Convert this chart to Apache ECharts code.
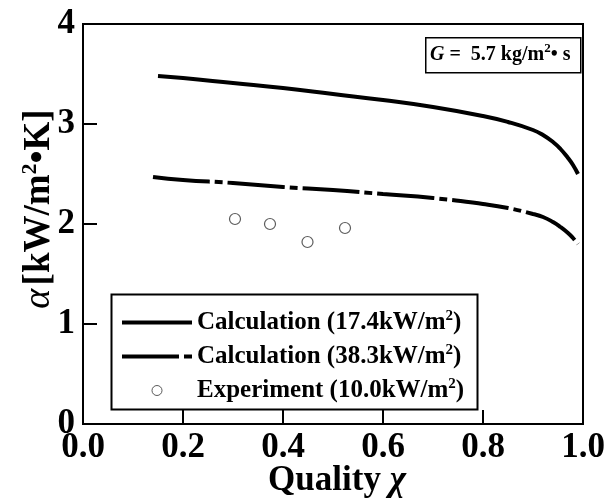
<!DOCTYPE html>
<html>
<head>
<meta charset="utf-8">
<script src="https://cdn.jsdelivr.net/npm/echarts@6/dist/echarts.min.js"></script>
<style>
  html, body { margin: 0; padding: 0; background: #fff; }
  #main { width: 615px; height: 501px; }
</style>
</head>
<body>
<div id="main"></div>
<script>
// 曲线数据
var calcLowFlux = [
  [0.15, 3.48], [0.2, 3.46], [0.3, 3.41], [0.4, 3.36], [0.5, 3.30], [0.6, 3.24],
  [0.7, 3.17], [0.8, 3.08], [0.85, 3.02], [0.9, 2.94], [0.92, 2.89], [0.94, 2.82],
  [0.955, 2.75], [0.97, 2.66], [0.98, 2.59], [0.99, 2.50]
];
var calcHighFlux = [
  [0.14, 2.47], [0.2, 2.44], [0.3, 2.41], [0.4, 2.37], [0.5, 2.34], [0.6, 2.30],
  [0.7, 2.26], [0.8, 2.20], [0.85, 2.16], [0.9, 2.10], [0.92, 2.07], [0.94, 2.02],
  [0.955, 1.97], [0.97, 1.91], [0.98, 1.86], [0.99, 1.80]
];
var experiment = [
  [0.304, 2.05], [0.374, 2.00], [0.449, 1.82], [0.524, 1.96]
];
var xTicks = ['0.0', '0.2', '0.4', '0.6', '0.8', '1.0'];
var yTicks = ['0', '1', '2', '3', '4'];

var serif = '"Liberation Serif", "Times New Roman", serif';

var chart = echarts.init(document.getElementById('main'));

var legendRich = {
  a: { fontFamily: serif, fontWeight: 'bold', fontSize: 25, color: '#000' },
  s: { fontFamily: serif, fontWeight: 'bold', fontSize: 15, color: '#000', padding: [0, 0, 12, 0] }
};

var option = {
  animation: false,
  backgroundColor: '#fff',
  grid: {
    left: 83, right: 32, top: 24, bottom: 77,
    outerBoundsMode: 'none', containLabel: false,
    show: true, borderColor: '#000', borderWidth: 2
  },
  xAxis: {
    type: 'value', min: 0, max: 1, interval: 0.2,
    axisLine: { lineStyle: { color: '#000', width: 2 } },
    axisTick: { inside: true, length: 14, lineStyle: { color: '#000', width: 2 } },
    splitLine: { show: false },
    axisLabel: {
      margin: 6,
      fontFamily: serif, fontWeight: 'bold', fontSize: 35, color: '#000',
      formatter: function (v) { return xTicks[Math.round(v / 0.2)]; }
    }
  },
  yAxis: {
    type: 'value', min: 0, max: 4, interval: 1,
    axisLine: { lineStyle: { color: '#000', width: 2 } },
    axisTick: { inside: true, length: 14, lineStyle: { color: '#000', width: 2 } },
    splitLine: { show: false },
    axisLabel: {
      margin: 8,
      fontFamily: serif, fontWeight: 'bold', fontSize: 35, color: '#000',
      formatter: function (v) { return yTicks[v]; }
    }
  },
  legend: {
    orient: 'vertical',
    left: 115, top: 304,
    itemWidth: 70, itemHeight: 10, itemGap: 8,
    lineStyle: { width: 4 },
    data: [
      { name: 'calc1', itemStyle: { opacity: 0 } },
      { name: 'calc2', itemStyle: { opacity: 0 } },
      { name: 'exp', icon: 'circle', itemStyle: { color: '#fff', borderColor: '#333', borderWidth: 1 } }
    ],
    formatter: function (name) {
      if (name === 'calc1') return '{a|Calculation (17.4kW/m}{s|2}{a|)}';
      if (name === 'calc2') return '{a|Calculation (38.3kW/m}{s|2}{a|)}';
      return '{a|Experiment (10.0kW/m}{s|2}{a|)}';
    },
    textStyle: { rich: legendRich }
  },
  graphic: [
    {
      type: 'rect', left: 109, top: 292, z: 1,
      shape: { width: 366, height: 115 },
      style: { fill: null, stroke: '#000', lineWidth: 2 }
    },
    {
      type: 'rect', left: 425, top: 37, z: 1,
      shape: { width: 155, height: 35 },
      style: { fill: '#fff', stroke: '#000', lineWidth: 1.5 }
    },
    {
      type: 'text', left: 430, top: 42, z: 2,
      style: {
        text: '{g|G}{t| =  5.7 kg/m}{s|2}{t|• s}',
        rich: {
          g: { fontFamily: serif, fontStyle: 'italic', fontWeight: 'bold', fontSize: 20, fill: '#000' },
          t: { fontFamily: serif, fontWeight: 'bold', fontSize: 20, fill: '#000' },
          s: { fontFamily: serif, fontWeight: 'bold', fontSize: 13, fill: '#000', padding: [0, 0, 12, 0] }
        }
      }
    },
    {
      // 纵轴标题
      type: 'text', x: 39, y: 209, rotation: Math.PI / 2, z: 2,
      style: {
        text: '{i|α} {b|[kW/m}{s|2}{b|•K]}',
        align: 'center', verticalAlign: 'middle',
        rich: {
          i: { fontFamily: serif, fontStyle: 'italic', fontSize: 38, fill: '#000' },
          b: { fontFamily: serif, fontWeight: 'bold', fontSize: 37, fill: '#000' },
          s: { fontFamily: serif, fontWeight: 'bold', fontSize: 22, fill: '#000', padding: [0, 0, 17, 0] }
        }
      }
    },
    {
      // 横轴标题
      type: 'text', x: 337, y: 481, z: 2,
      style: {
        text: '{b|Quality }{i|χ}',
        align: 'center', verticalAlign: 'middle',
        rich: {
          b: { fontFamily: serif, fontWeight: 'bold', fontSize: 35, fill: '#000' },
          i: { fontFamily: serif, fontStyle: 'italic', fontWeight: 'bold', fontSize: 35, fill: '#000' }
        }
      }
    }
  ],
  series: [
    {
      name: 'calc1', type: 'line', data: calcLowFlux,
      smooth: 0.5, showSymbol: false, symbol: 'none',
      lineStyle: { color: '#000', width: 4 }
    },
    {
      name: 'calc2', type: 'line', data: calcHighFlux,
      smooth: 0.5, showSymbol: false, symbol: 'none',
      lineStyle: { color: '#000', width: 4, type: [57, 5, 8, 5] }
    },
    {
      name: 'exp', type: 'scatter', data: experiment,
      symbol: 'circle', symbolSize: 11,
      itemStyle: { color: '#fff', borderColor: '#333', borderWidth: 1.2 }
    }
  ]
};

chart.setOption(option);
</script>
</body>
</html>
